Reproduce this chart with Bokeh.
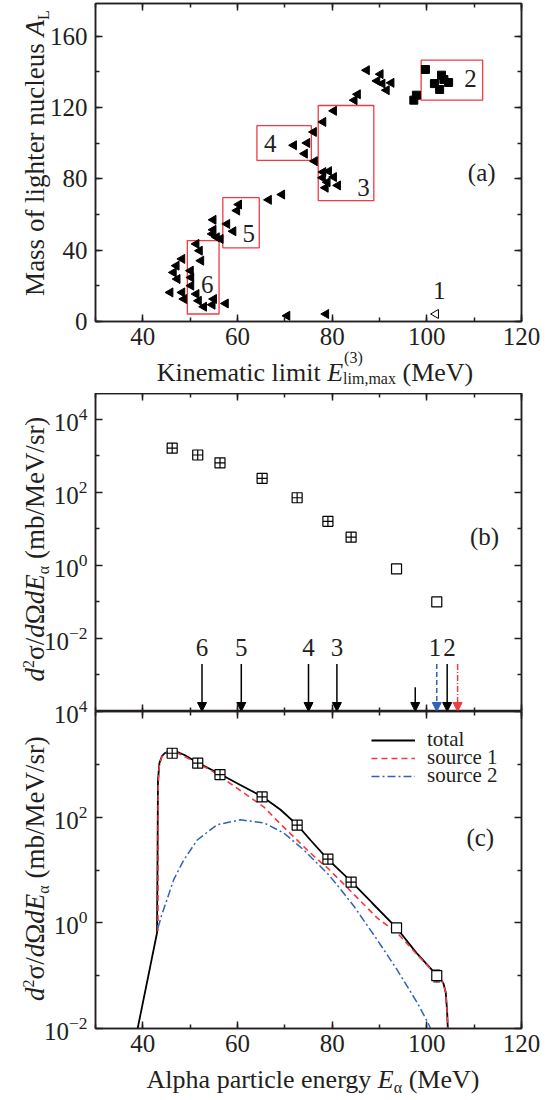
import math
from bokeh.plotting import figure
from bokeh.models import (Range1d, LinearAxis, LogAxis, FixedTicker, SingleIntervalTicker,
                          Arrow, NormalHead, ColumnDataSource, Whisker, TeeHead,
                          Legend, LegendItem, Div)
from bokeh.layouts import column
from bokeh.embed import file_html
from bokeh.resources import INLINE
from bokeh.core.properties import value, field

FONT = "Liberation Serif"
INK = "#231f20"
RED = "#ef3b45"
BLUE = "#2f62b8"

# ---------------- panel (a) data ----------------
tri_x = [87.3, 90.2, 89.5, 90.6, 91.5, 92.5, 85.4, 84.7, 80.35, 78.1, 76.1,
         74.7, 71.9, 74.2, 76.3, 78.1, 79.3, 78.0, 80.35, 79.0, 81.2, 78.6,
         69.4, 66.6, 60.3, 59.9, 57.8, 59.1, 54.9, 54.9, 54.7, 56.4, 55.6,
         51.3, 52.0, 52.3, 48.3, 47.1, 46.5, 47.3, 50.1, 50.2, 50.2,
         45.8, 48.3, 48.7, 51.3, 51.8, 52.9, 54.7, 55.0, 57.5, 70.5, 78.7]
tri_y = [140.9, 138.7, 134.9, 133.4, 129.7, 133.8, 127.4, 124.1, 118.1, 111.9, 106.3,
         100.1, 98.8, 94.1, 89.9, 83.8, 84.3, 80.6, 81.0, 78.1, 76.3, 75.0,
         71.2, 68.2, 65.6, 62.2, 54.7, 50.6, 57.0, 51.4, 49.1, 46.3, 47.2,
         43.5, 39.7, 34.1, 35.1, 31.3, 27.5, 23.8, 28.5, 24.7, 20.1,
         16.3, 16.3, 12.6, 15.4, 11.6, 8.3, 9.4, 12.6, 10.1, 3.2, 4.2]
sq_x = [99.7, 103.1, 101.6, 103.6, 104.6, 102.7, 97.8, 97.25]
sq_y = [141.3, 138.1, 133.4, 135.7, 134.0, 130.1, 126.9, 124.1]
open_x = [101.9]
open_y = [4.2]

box_left = [98.8, 77.05, 64.1, 56.9, 49.4]
box_right = [111.8, 88.8, 75.6, 64.6, 56.1]
box_bottom = [124.1, 67.8, 90.3, 41.3, 4.2]
box_top = [146.5, 121.1, 109.8, 69.4, 45.4]

group_labels = ["2", "3", "4", "5", "6", "1"]
group_label_x = [109.2, 86.6, 66.9, 62.4, 53.6, 102.6]
group_label_y = [136.3, 75.3, 100.0, 49.1, 21.0, 17.3]

# ---------------- panels (b), (c) data ----------------
exp_E = [46.2, 51.6, 56.3, 65.2, 72.6, 79.1, 84.0, 93.6, 102.1]
exp_xs = [1620, 1050, 640, 242, 71, 16.1, 5.9, 0.80, 0.100]
exp_marker = ["square_cross"] * 7 + ["square"] * 2
err_E = [102.1]
err_lo = [0.076]
err_hi = [0.128]

arrow_black_E = [52.5, 60.8, 75.0, 81.0, 97.55, 104.3]
arrow_black_top = [2.0e-3, 2.0e-3, 2.0e-3, 2.0e-3, 4.6e-4, 2.0e-3]
arrow_blue_E = [102.1]
arrow_red_E = [106.5]
arrow_color_top = [2.0e-3]
arrow_bottom = 1e-4
arrow_labels = ["6", "5", "4", "3", "1", "2"]
arrow_label_E = [52.5, 60.8, 75.0, 81.0, 101.7, 104.8]
arrow_label_y = [5.6e-3] * 6

total_E = [38.9, 40.0, 41.5, 43.0, 43.12, 43.2, 43.5, 44.0, 44.6, 45.4, 46.2, 47.2, 48.8,
           51.6, 56.3, 60.6, 65.2, 69.1, 72.6, 75.4, 79.0, 84.0, 88.4, 93.6, 97.8,
           102.1, 103.0, 103.5, 104.0, 104.3, 104.45]
total_xs = [0.010, 0.0305, 0.14, 0.65, 30, 500, 1050, 1410, 1620, 1740, 1760, 1720, 1500,
            1070, 656, 407, 245, 138, 71.6, 37, 16.2, 6.1, 2.4, 0.805, 0.27,
            0.102, 0.083, 0.072, 0.048, 0.020, 0.009]

src1_E = [43.2, 43.25, 43.5, 44.0, 44.6, 45.4, 46.2, 47.2, 48.8, 51.6, 54.3, 56.3, 60.6,
          65.6, 69.1, 73.3, 75.4, 77.9, 79.0, 83.9, 89.5, 93.7, 97.95, 101.5, 102.5,
          103.5, 104.0, 104.3, 104.45]
src1_xs = [0.7, 400, 1000, 1380, 1580, 1700, 1720, 1660, 1410, 1030, 780, 590, 320,
           155, 74, 32, 21, 13.2, 11, 4.0, 1.24, 0.65, 0.25, 0.115, 0.093,
           0.072, 0.047, 0.019, 0.009]

src2_E = [43.2, 44.0, 45.1, 46.5, 48.65, 51.5, 55.7, 60.6, 65.6, 69.8, 74.0, 78.95, 80.7,
          84.6, 89.5, 93.7, 97.95, 100.05, 100.8]
src2_xs = [0.81, 1.41, 2.75, 6.5, 15.5, 37, 72, 89, 78, 50, 24, 8.7, 5.7,
           2.06, 0.48, 0.13, 0.031, 0.0138, 0.0100]

legend_labels = ["total", "source 1", "source 2"]

x_ticks_major = 20
W = 555


def style_axis(ax, labels=True, tick_out=0):
    ax.major_tick_in = 7
    ax.major_tick_out = tick_out
    ax.minor_tick_in = 4
    ax.minor_tick_out = min(tick_out, 4)
    ax.axis_line_width = 1.5
    ax.axis_line_color = INK
    ax.major_tick_line_width = 1.5
    ax.minor_tick_line_width = 1.5
    ax.major_tick_line_color = INK
    ax.minor_tick_line_color = INK
    ax.major_label_text_font = FONT
    if labels:
        ax.major_label_text_color = INK
        ax.major_label_text_font_size = "25px"
        ax.major_label_standoff = 6
    else:
        ax.major_label_text_color = None
        ax.major_label_text_font_size = "1px"
        ax.major_label_standoff = 0


def xtick():
    return SingleIntervalTicker(interval=x_ticks_major, num_minor_ticks=2)


def base_fig(height, y_range, log=False, b_left=95, b_right=34, b_top=0, b_bottom=0, x_loc="below"):
    p = figure(width=W, height=height, x_range=Range1d(30, 120), y_range=y_range,
               y_axis_type="log" if log else "linear", x_axis_location=x_loc,
               output_backend="svg", toolbar_location=None,
               min_border_left=b_left, min_border_right=b_right,
               min_border_top=b_top, min_border_bottom=b_bottom)
    p.grid.visible = False
    p.outline_line_color = INK
    p.outline_line_width = 1.5
    return p


# ================= panel (a) =================
pa = base_fig(393, Range1d(0, 178.3), b_top=3, b_bottom=72)
pa.xaxis.ticker = xtick()
pa.yaxis.ticker = SingleIntervalTicker(interval=40, num_minor_ticks=2)
style_axis(pa.xaxis[0])
style_axis(pa.yaxis[0])
pa.yaxis[0].major_label_standoff = 8
pa.add_layout(LinearAxis(ticker=xtick()), "above")
pa.add_layout(LinearAxis(ticker=SingleIntervalTicker(interval=40, num_minor_ticks=2)), "right")
style_axis(pa.above[0], labels=False)
style_axis(pa.right[0], labels=False)

pa.quad(left=box_left, right=box_right, bottom=box_bottom, top=box_top,
        fill_color=None, line_color=RED, line_width=1.3)
pa.scatter(tri_x, tri_y, marker="triangle", angle=math.pi / 2, size=9, color="black")
pa.scatter(sq_x, sq_y, marker="square", size=8, color="black")
pa.scatter(open_x, open_y, marker="triangle", angle=math.pi / 2, size=9, fill_color=None,
           line_color="black", line_width=1)
pa.text(group_label_x, group_label_y, text=group_labels, text_font=value(FONT),
        text_font_size="25px", text_align="center", text_baseline="middle", text_color=INK)
pa.text([111.6], [83.3], text=["(a)"], text_font=value(FONT), text_font_size="25px",
        text_align="center", text_baseline="middle", text_color=INK)

# ================= panel (b) =================
pb = base_fig(318, Range1d(1e-4, 5.07e4), log=True, x_loc="above")
pb.xaxis.ticker = xtick()
style_axis(pb.xaxis[0], labels=False)
pb.yaxis.ticker = FixedTicker(ticks=[1e-2, 1, 1e2, 1e4], minor_ticks=[1e-3, 1e-1, 1e1, 1e3])
style_axis(pb.yaxis[0])
pb.yaxis[0].major_label_standoff = 8
ra = LogAxis(ticker=FixedTicker(ticks=[1e-2, 1, 1e2, 1e4], minor_ticks=[1e-3, 1e-1, 1e1, 1e3]))
pb.add_layout(ra, "right")
style_axis(ra, labels=False)

srcb = ColumnDataSource(dict(x=exp_E, y=exp_xs, m=exp_marker))
pb.add_layout(Whisker(source=ColumnDataSource(dict(x=err_E, lo=err_lo, hi=err_hi)),
                      base="x", lower="lo", upper="hi", dimension="height",
                      line_color="black", line_width=1,
                      upper_head=TeeHead(size=7, line_color="black", line_width=1),
                      lower_head=TeeHead(size=7, line_color="black", line_width=1)))
pb.scatter("x", "y", source=srcb, marker=field("m"), size=10, fill_color="white",
           line_color="black", line_width=1.2)

ab = ColumnDataSource(dict(x=arrow_black_E, y0=arrow_black_top, y1=[arrow_bottom] * len(arrow_black_E)))
pb.add_layout(Arrow(source=ab, x_start="x", y_start="y0", x_end="x", y_end="y1",
                    line_color="black", line_width=1.5,
                    end=NormalHead(size=9, fill_color="black", line_color="black", line_width=1)))
abl = ColumnDataSource(dict(x=arrow_blue_E, y0=arrow_color_top, y1=[arrow_bottom]))
pb.add_layout(Arrow(source=abl, x_start="x", y_start="y0", x_end="x", y_end="y1",
                    line_color=BLUE, line_width=1.5, line_dash="5 3",
                    end=NormalHead(size=9, fill_color=BLUE, line_color=BLUE, line_width=1)))
ard = ColumnDataSource(dict(x=arrow_red_E, y0=arrow_color_top, y1=[arrow_bottom]))
pb.add_layout(Arrow(source=ard, x_start="x", y_start="y0", x_end="x", y_end="y1",
                    line_color=RED, line_width=1.5, line_dash="6 2 1 2",
                    end=NormalHead(size=9, fill_color=RED, line_color=RED, line_width=1)))
pb.text(arrow_label_E, arrow_label_y, text=arrow_labels, text_font=value(FONT),
        text_font_size="25px", text_align="center", text_baseline="middle", text_color=INK)
pb.text([112.2], [6.2], text=["(b)"], text_font=value(FONT), text_font_size="25px",
        text_align="center", text_baseline="middle", text_color=INK)

# ================= panel (c) =================
pc = base_fig(403, Range1d(1e-2, 1e4), log=True, b_top=14, b_bottom=72)
pc.border_fill_alpha = 0
pc.background_fill_alpha = 0
pc.styles = {"margin-top": "-14px"}
pc.xaxis.ticker = xtick()
style_axis(pc.xaxis[0])
pc.yaxis.ticker = FixedTicker(ticks=[1e-2, 1, 1e2, 1e4], minor_ticks=[1e-1, 1e1, 1e3])
style_axis(pc.yaxis[0])
pc.yaxis[0].major_label_standoff = 8
ta = LinearAxis(ticker=xtick())
pc.add_layout(ta, "above")
style_axis(ta, labels=False, tick_out=7)
rc = LogAxis(ticker=FixedTicker(ticks=[1e-2, 1, 1e2, 1e4], minor_ticks=[1e-1, 1e1, 1e3]))
pc.add_layout(rc, "right")
style_axis(rc, labels=False)

r_tot = pc.line(total_E, total_xs, line_color="black", line_width=1.8)
r_s1 = pc.line(src1_E, src1_xs, line_color=RED, line_width=1.6, line_dash="6 4")
r_s2 = pc.line(src2_E, src2_xs, line_color=BLUE, line_width=1.5, line_dash="8 3 2 3")
pc.add_layout(Whisker(source=ColumnDataSource(dict(x=err_E, lo=err_lo, hi=err_hi)),
                      base="x", lower="lo", upper="hi", dimension="height",
                      line_color="black", line_width=1,
                      upper_head=TeeHead(size=7, line_color="black", line_width=1),
                      lower_head=TeeHead(size=7, line_color="black", line_width=1)))
srcc = ColumnDataSource(dict(x=exp_E, y=exp_xs, m=exp_marker))
pc.scatter("x", "y", source=srcc, marker=field("m"), size=10, fill_color="white",
           line_color="black", line_width=1.2)
pc.text([111.3], [41.7], text=["(c)"], text_font=value(FONT), text_font_size="25px",
        text_align="center", text_baseline="middle", text_color=INK)

for lab, rend, yb in zip(legend_labels, [r_tot, r_s1, r_s2], [276.0, 258.0, 240.0]):
    lg = Legend(items=[LegendItem(label=lab, renderers=[rend])], location=(276, yb),
                glyph_width=44, glyph_height=18, label_height=18, label_standoff=12,
                label_text_font=FONT, label_text_font_size="21px", label_text_color=INK,
                padding=0, margin=0, spacing=0, border_line_color=None,
                background_fill_alpha=0)
    pc.add_layout(lg)

# ================= axis titles (HTML overlay) =================
SMALL = "font-size:16px;position:relative;"


def hlabel(left, width, baseline, size, html):
    top = baseline - 0.8375 * size
    return (f'<div style="position:absolute;left:{left}px;top:{top:.1f}px;width:{width}px;'
            f'text-align:center;white-space:nowrap;font-size:{size}px;line-height:1;">{html}</div>')


def vlabel(baseline_x, center_y, length, size, html):
    left = baseline_x - 0.8375 * size
    top = center_y + length / 2
    return (f'<div style="position:absolute;left:{left:.1f}px;top:{top:.1f}px;width:{length}px;'
            f'transform-origin:0 0;transform:rotate(-90deg);text-align:center;white-space:nowrap;'
            f'font-size:{size}px;line-height:1;">{html}</div>')


xa_html = ('Kinematic limit <i>E</i><span style="' + SMALL + '">'
           '<span style="position:absolute;left:1px;top:-16.6px;line-height:1;">(3)</span>'
           '<span style="position:relative;top:3.5px;">lim,max</span></span> (MeV)')
xc_html = ('Alpha particle energy <i>E</i><span style="' + SMALL + 'top:5px;">\u03b1</span> (MeV)')
ya_html = ('Mass of lighter nucleus <i>A</i><span style="' + SMALL + 'top:5px;">L</span>')
ybc_html = ('<i>d</i><span style="' + SMALL + 'top:-10px;">2</span>\u03c3/<i>d</i>\u03a9<i>dE</i>'
            '<span style="' + SMALL + 'top:5px;">\u03b1</span> (mb/MeV/sr)')

overlay_html = (
    f'<div style="position:relative;width:{W}px;height:1100px;font-family:\'{FONT}\';color:{INK};">'
    + hlabel(97, 426, 381.5, 26, xa_html)
    + hlabel(95, 426, 1088.5, 26, xc_html)
    + vlabel(39.5, 152.5, 318, 27, ya_html)
    + vlabel(39.5, 548.5, 318, 27, ybc_html)
    + vlabel(39.5, 868.0, 317, 27, ybc_html)
    + '</div>'
)
overlay = Div(text=overlay_html, width=W, height=1100,
              styles={"margin-top": "-1100px", "pointer-events": "none"})

layout = column(pa, pb, pc, overlay, spacing=0)
open("out.html", "w").write(file_html(layout, INLINE))
